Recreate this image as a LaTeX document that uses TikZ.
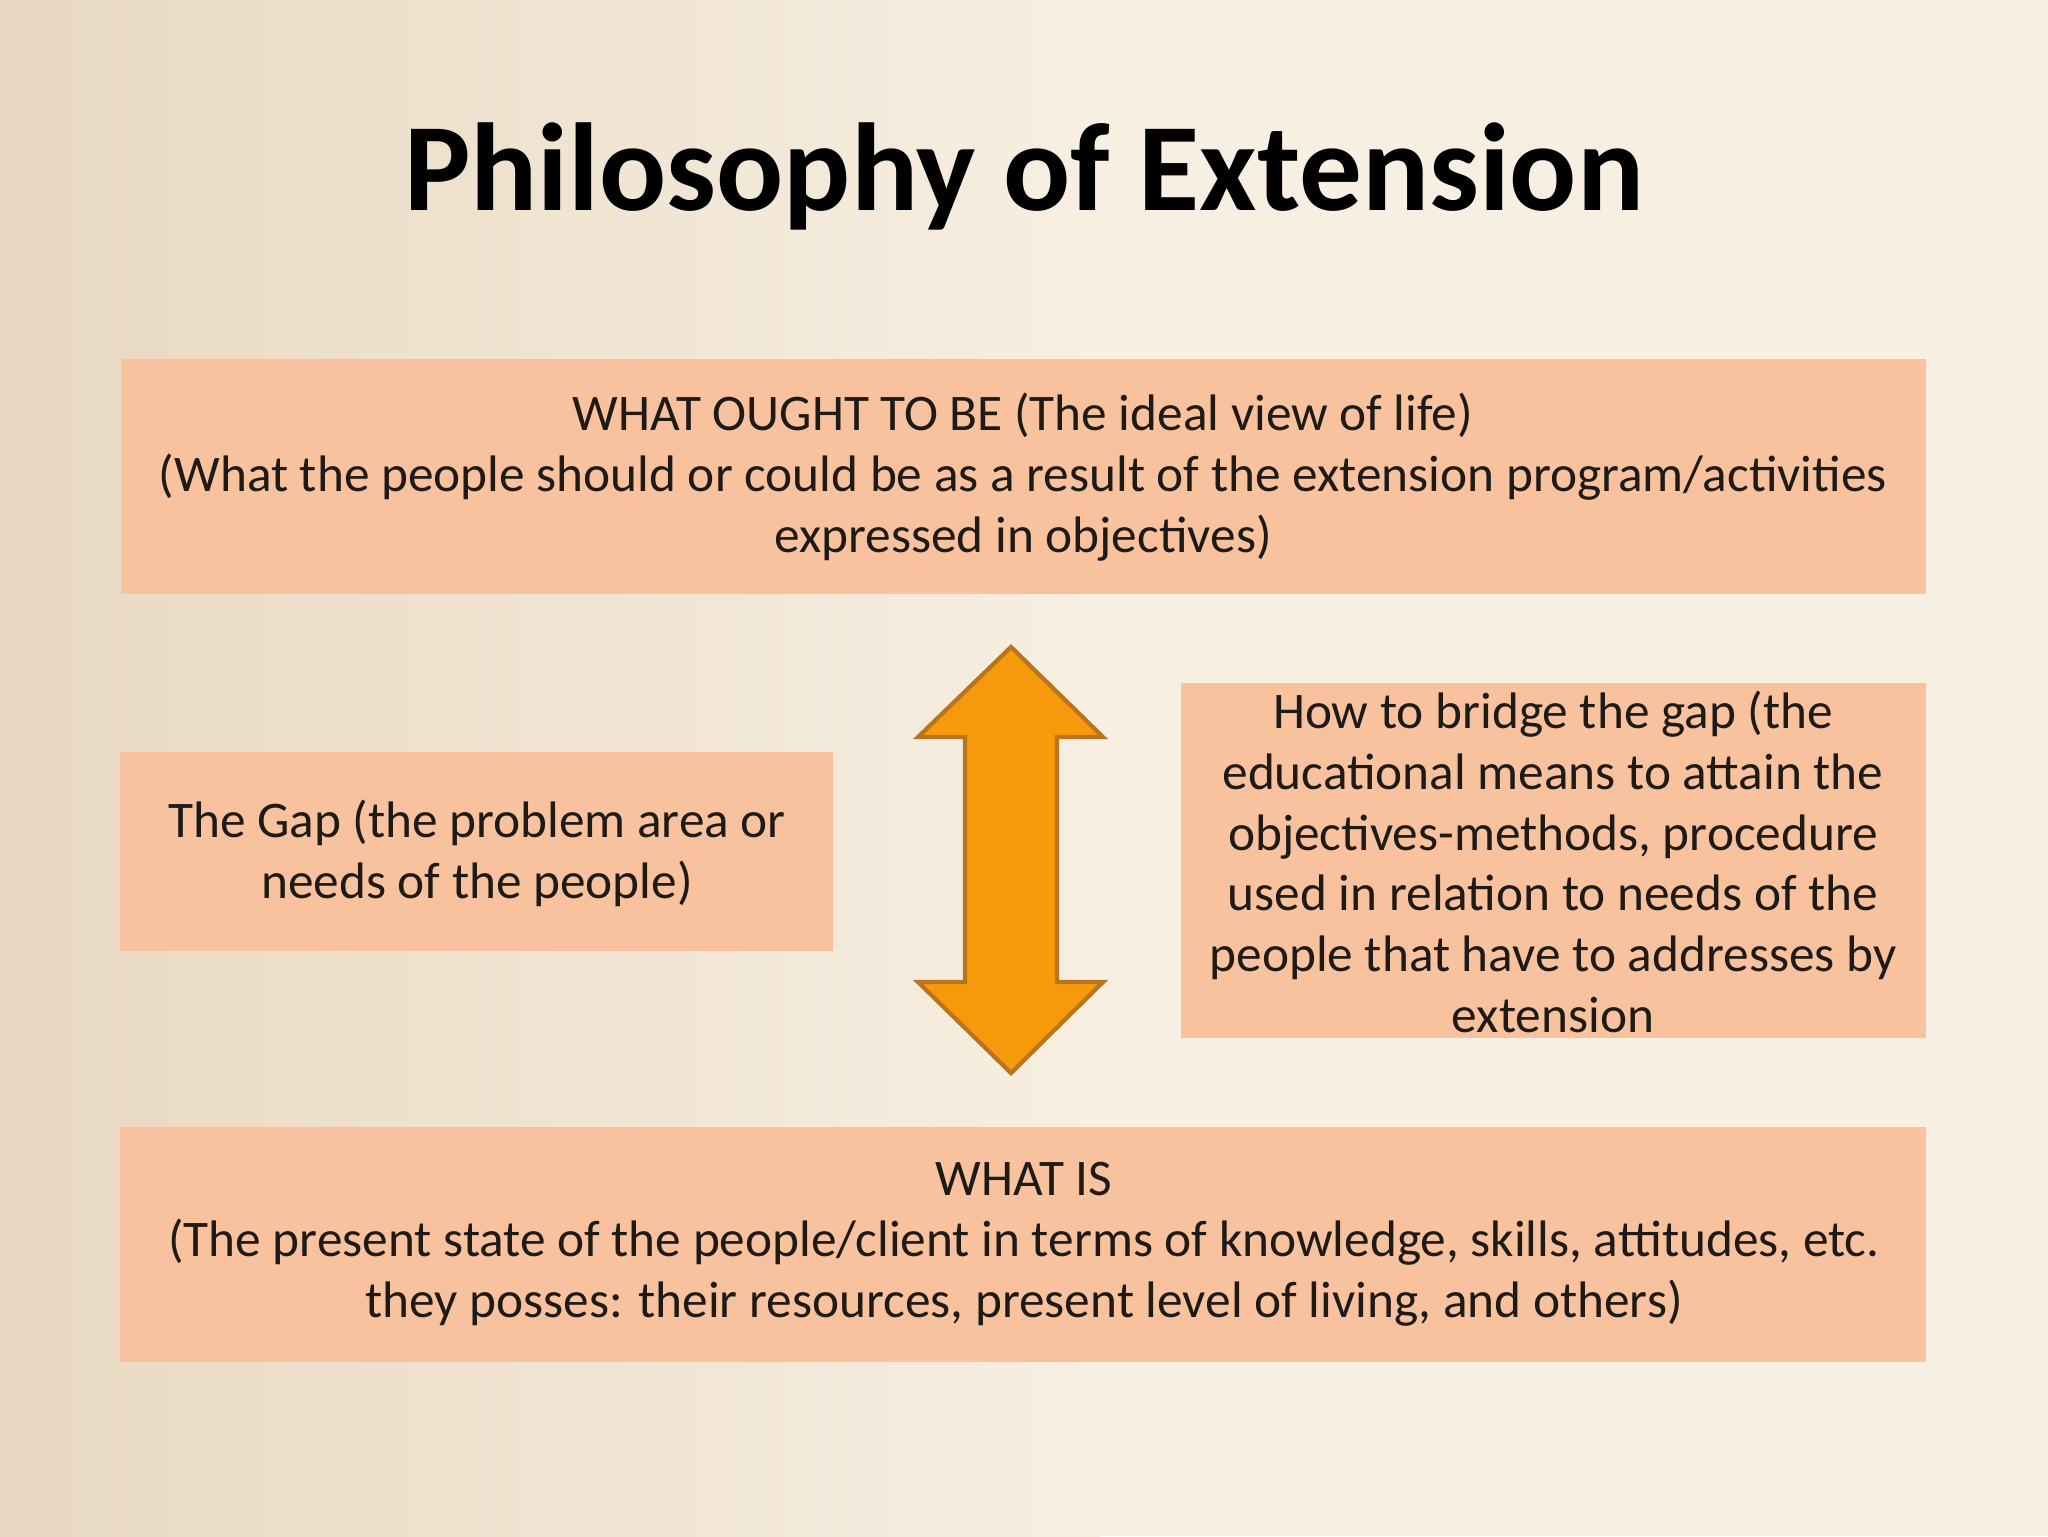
\documentclass[tikz,border=0pt]{standalone}
\usepackage{fontspec}
\setmainfont{Carlito}
\definecolor{bgA}{HTML}{E8D8C1}
\definecolor{bgB}{HTML}{F7EFE2}
\definecolor{boxfill}{HTML}{F9C29E}
\definecolor{arrowfill}{HTML}{F69A0C}
\definecolor{arrowline}{HTML}{B8741E}
\definecolor{txt}{HTML}{1E1A16}
\tikzset{
  paneltext/.style={text=txt, align=center, inner sep=0pt, font=\fontsize{14.6}{17.3}\selectfont},
}
\begin{document}
\begin{tikzpicture}[x=0.1mm,y=-0.1mm]
\useasboundingbox (0,0) rectangle (2048,1536);
\shade[left color=bgA, right color=bgB] (0,0) rectangle (1100,1536);
\fill[bgB] (1099,0) rectangle (2048,1536);
\node[text=black, font=\fontsize{35.6}{40}\selectfont\bfseries, inner sep=0pt] (title) at (1024,176) {Philosophy of Extension};
% boxes
\fill[boxfill] (121,359) rectangle (1926,594);
\node[paneltext] (top) at (1023,477) {WHAT OUGHT TO BE (The ideal view of life)\\(What the people should or could be as a result of the extension program/activities\\expressed in objectives)};
\fill[boxfill] (120,752) rectangle (833,951);
\node[paneltext] (gap) at (477,853) {The Gap (the problem area or\\needs of the people)};
\fill[boxfill] (1181,683) rectangle (1926,1038);
\node[paneltext] (bridge) at (1553,862) {How to bridge the gap (the\\educational means to attain the\\objectives-methods, procedure\\used in relation to needs of the\\people that have to addresses by\\extension};
\fill[boxfill] (120,1127) rectangle (1926,1362);
\node[paneltext] (is) at (1024,1244) {WHAT IS\\(The present state of the people/client in terms of knowledge, skills, attitudes, etc.\\they posses: their resources, present level of living, and others)};
% double arrow
\draw[fill=arrowfill, draw=arrowline, line width=1.2pt, line join=miter]
  (1011,647) -- (1103,737) -- (1057,737) -- (1057,982) -- (1103,982) -- (1011,1073)
  -- (918,982) -- (965,982) -- (965,737) -- (918,737) -- cycle;
\end{tikzpicture}
\end{document}
